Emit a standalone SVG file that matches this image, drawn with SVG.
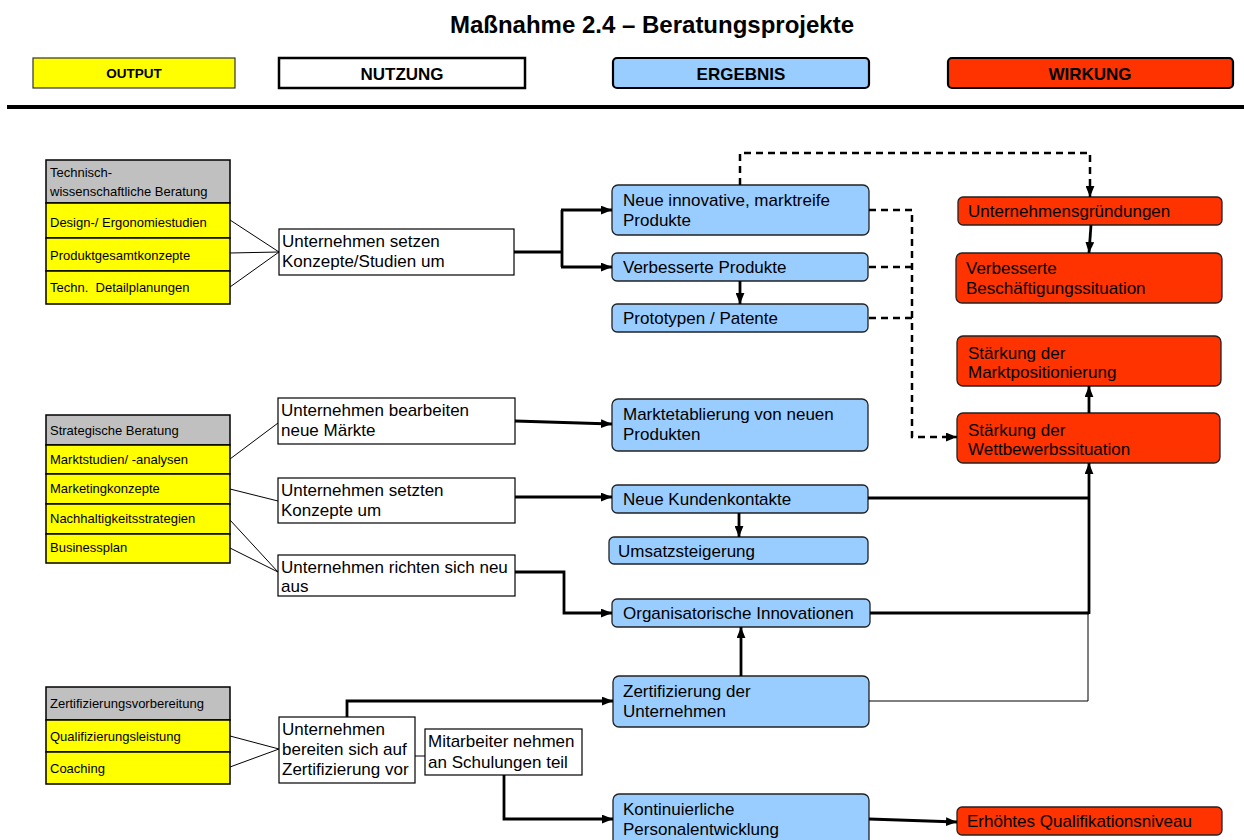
<svg xmlns="http://www.w3.org/2000/svg" width="1244" height="840" viewBox="0 0 1244 840">
<style>
text{font-family:"Liberation Sans",Arial,sans-serif;fill:#000}
.t{font-size:17px}
.s{font-size:13px}
.lg{font-size:17px;font-weight:bold}
.blk{stroke:#000;stroke-width:1.5}
.gray{fill:#C0C0C0}
.yel{fill:#FFFF00}
.wht{fill:#fff;stroke:#000;stroke-width:1.2}
.blue{fill:#99CCFF;stroke:#222;stroke-width:1.3}
.red{fill:#FF3300;stroke:#222;stroke-width:1.3}
.thick{fill:none;stroke:#000;stroke-width:2.8}
.thin{fill:none;stroke:#000;stroke-width:1}
.dash{fill:none;stroke:#000;stroke-width:2.5;stroke-dasharray:7,5}
</style>
<defs>
<marker id="ah" viewBox="0 0 10 8" refX="10" refY="4" markerWidth="11" markerHeight="9" markerUnits="userSpaceOnUse" orient="auto">
<path d="M0,0 L10,4 L0,8 z" fill="#000"/>
</marker>
</defs>

<text x="652" y="33" text-anchor="middle" style="font-size:24px;font-weight:bold">Maßnahme 2.4 – Beratungsprojekte</text>

<g id="legend">
<rect x="33" y="58" width="202" height="30" fill="#FFFF00" stroke="#333" stroke-width="1.2"/>
<text x="134" y="78" text-anchor="middle" style="font-size:13.5px;font-weight:bold">OUTPUT</text>
<rect x="279" y="58" width="246" height="30" fill="#fff" stroke="#000" stroke-width="2.5"/>
<text x="402" y="80" text-anchor="middle" class="lg">NUTZUNG</text>
<rect x="613" y="58" width="256" height="30" rx="4" fill="#99CCFF" stroke="#000" stroke-width="2.2"/>
<text x="741" y="80" text-anchor="middle" class="lg">ERGEBNIS</text>
<rect x="948" y="58" width="285" height="30" rx="4" fill="#FF3300" stroke="#000" stroke-width="2.2"/>
<text x="1090" y="80" text-anchor="middle" class="lg">WIRKUNG</text>
<line x1="7" y1="107" x2="1244" y2="107" stroke="#000" stroke-width="4"/>
</g>

<g id="block-technisch">
<rect x="46" y="160" width="184" height="43" class="gray blk"/>
<rect x="46" y="203" width="184" height="35" class="yel blk"/>
<rect x="46" y="238" width="184" height="33" class="yel blk"/>
<rect x="46" y="271" width="184" height="33" class="yel blk"/>
<text class="s" x="50" y="177">Technisch-</text>
<text class="s" x="50" y="196">wissenschaftliche Beratung</text>
<text class="s" x="50" y="227">Design-/ Ergonomiestudien</text>
<text class="s" x="50" y="260">Produktgesamtkonzepte</text>
<text class="s" x="50" y="292" xml:space="preserve">Techn.  Detailplanungen</text>
</g>

<g id="block-strategisch">
<rect x="46" y="415" width="184" height="30" class="gray blk"/>
<rect x="46" y="445" width="184" height="29" class="yel blk"/>
<rect x="46" y="474" width="184" height="30" class="yel blk"/>
<rect x="46" y="504" width="184" height="30" class="yel blk"/>
<rect x="46" y="534" width="184" height="29" class="yel blk"/>
<text class="s" x="50" y="435">Strategische Beratung</text>
<text class="s" x="50" y="464">Marktstudien/ -analysen</text>
<text class="s" x="50" y="493">Marketingkonzepte</text>
<text class="s" x="50" y="523">Nachhaltigkeitsstrategien</text>
<text class="s" x="50" y="552">Businessplan</text>
</g>

<g id="block-zert">
<rect x="46" y="687" width="184" height="33" class="gray blk"/>
<rect x="46" y="720" width="184" height="32" class="yel blk"/>
<rect x="46" y="752" width="184" height="32" class="yel blk"/>
<text class="s" x="50" y="708">Zertifizierungsvorbereitung</text>
<text class="s" x="50" y="741">Qualifizierungsleistung</text>
<text class="s" x="50" y="773">Coaching</text>
</g>

<g id="n-setzen">
<rect x="279" y="229" width="235" height="46" class="wht"/>
<text class="t" x="282" y="247">Unternehmen setzen</text>
<text class="t" x="282" y="267">Konzepte/Studien um</text>
</g>
<g id="n-bearbeiten">
<rect x="278" y="398" width="237" height="46" class="wht"/>
<text class="t" x="281" y="416">Unternehmen bearbeiten</text>
<text class="t" x="281" y="436">neue Märkte</text>
</g>
<g id="n-setzten">
<rect x="278" y="478" width="237" height="45" class="wht"/>
<text class="t" x="281" y="496">Unternehmen setzten</text>
<text class="t" x="281" y="516">Konzepte um</text>
</g>
<g id="n-richten">
<rect x="278" y="555" width="237" height="41" class="wht"/>
<text class="t" x="281" y="573">Unternehmen richten sich neu</text>
<text class="t" x="281" y="592">aus</text>
</g>
<g id="n-bereiten">
<rect x="279" y="717" width="136" height="66" class="wht"/>
<text class="t" x="282" y="735">Unternehmen</text>
<text class="t" x="282" y="755">bereiten sich auf</text>
<text class="t" x="282" y="775">Zertifizierung vor</text>
</g>
<g id="n-mitarbeiter">
<rect x="425" y="729" width="157" height="46" class="wht"/>
<text class="t" x="428" y="747">Mitarbeiter nehmen</text>
<text class="t" x="428" y="768">an Schulungen teil</text>
</g>

<g id="e-neue">
<rect x="612" y="185" width="257" height="50" rx="6" class="blue"/>
<text class="t" x="623" y="206">Neue innovative, marktreife</text>
<text class="t" x="623" y="226">Produkte</text>
</g>
<g id="e-verbessert">
<rect x="612" y="253" width="256" height="28" rx="5" class="blue"/>
<text class="t" x="623" y="273">Verbesserte Produkte</text>
</g>
<g id="e-prototypen">
<rect x="612" y="304" width="256" height="28" rx="5" class="blue"/>
<text class="t" x="623" y="324">Prototypen / Patente</text>
</g>
<g id="e-marktetablierung">
<rect x="612" y="399" width="256" height="52" rx="6" class="blue"/>
<text class="t" x="623" y="420">Marktetablierung von neuen</text>
<text class="t" x="623" y="440">Produkten</text>
</g>
<g id="e-kunden">
<rect x="612" y="485" width="256" height="28" rx="5" class="blue"/>
<text class="t" x="623" y="505">Neue Kundenkontakte</text>
</g>
<g id="e-umsatz">
<rect x="609" y="537" width="259" height="27" rx="5" class="blue"/>
<text class="t" x="618" y="557">Umsatzsteigerung</text>
</g>
<g id="e-organisatorisch">
<rect x="612" y="599" width="258" height="28" rx="5" class="blue"/>
<text class="t" x="623" y="619">Organisatorische Innovationen</text>
</g>
<g id="e-zertifizierung">
<rect x="613" y="676" width="256" height="51" rx="6" class="blue"/>
<text class="t" x="623" y="697">Zertifizierung der</text>
<text class="t" x="623" y="717">Unternehmen</text>
</g>
<g id="e-personal">
<rect x="613" y="794" width="256" height="52" rx="6" class="blue"/>
<text class="t" x="623" y="815">Kontinuierliche</text>
<text class="t" x="623" y="835">Personalentwicklung</text>
</g>

<g id="w-gruendungen">
<rect x="958" y="197" width="264" height="28" rx="5" class="red"/>
<text class="t" x="968" y="217">Unternehmensgründungen</text>
</g>
<g id="w-beschaeftigung">
<rect x="956" y="253" width="266" height="50" rx="6" class="red"/>
<text class="t" x="966" y="274">Verbesserte</text>
<text class="t" x="966" y="294">Beschäftigungssituation</text>
</g>
<g id="w-marktposition">
<rect x="957" y="336" width="264" height="50" rx="6" class="red"/>
<text class="t" x="968" y="359">Stärkung der</text>
<text class="t" x="968" y="378">Marktpositionierung</text>
</g>
<g id="w-wettbewerb">
<rect x="957" y="413" width="263" height="50" rx="6" class="red"/>
<text class="t" x="968" y="436">Stärkung der</text>
<text class="t" x="968" y="455">Wettbewerbssituation</text>
</g>
<g id="w-qualifikation">
<rect x="957" y="807" width="265" height="28" rx="5" class="red"/>
<text class="t" x="967" y="827">Erhöhtes Qualifikationsniveau</text>
</g>

<g id="connectors">
<path class="thin" d="M230,220 L279,252 M230,253 L279,252 M230,287 L279,252"/>
<path class="thick" d="M514,252 L562,252 M562,210 L562,267"/>
<path class="thick" d="M561,210 L612,210" marker-end="url(#ah)"/>
<path class="thick" d="M561,267 L612,267" marker-end="url(#ah)"/>
<path class="thick" d="M740,281 L740,304" marker-end="url(#ah)"/>
<path class="dash" d="M740,185 L740,153 L1090,153 L1090,197" marker-end="url(#ah)"/>
<path class="thick" d="M1091,225 L1089,253" marker-end="url(#ah)"/>
<path class="dash" d="M869,210 L912,210 L912,437 L957,437" marker-end="url(#ah)"/>
<path class="dash" d="M869,267 L912,267 M869,318 L912,318"/>
<path class="thick" d="M1089,413 L1089,386" marker-end="url(#ah)"/>
<path class="thin" d="M230,459 L278,423 M230,489 L278,501 M230,520 L278,572 M230,548 L278,572"/>
<path class="thick" d="M515,421 L612,424" marker-end="url(#ah)"/>
<path class="thick" d="M515,497 L612,497" marker-end="url(#ah)"/>
<path class="thick" d="M515,572 L564,572 L564,613 L612,613" marker-end="url(#ah)"/>
<path class="thick" d="M739,513 L739,537" marker-end="url(#ah)"/>
<path class="thick" d="M868,498 L1089,498 M870,613 L1089,613"/>
<path class="thick" d="M1089,614 L1089,463" marker-end="url(#ah)"/>
<path class="thin" d="M869,701 L1088,701 L1088,613"/>
<path class="thick" d="M741,676 L741,627" marker-end="url(#ah)"/>
<path class="thin" d="M230,736 L279,749 M230,767 L279,749 M415,756 L425,756"/>
<path class="thick" d="M347,717 L347,701 L613,701" marker-end="url(#ah)"/>
<path class="thick" d="M504,775 L504,819 L613,819" marker-end="url(#ah)"/>
<path class="thick" d="M869,819 L957,822" marker-end="url(#ah)"/>
</g>
</svg>
